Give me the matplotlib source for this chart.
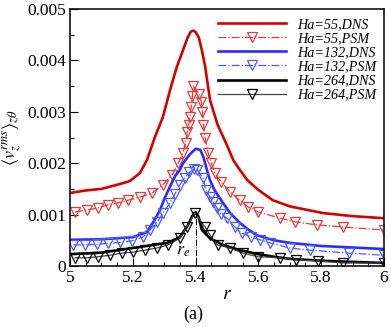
import numpy as np
import matplotlib
matplotlib.use("Agg")
import matplotlib.pyplot as plt
from matplotlib.ticker import MultipleLocator

plt.rcParams["font.family"] = "serif"
plt.rcParams["font.serif"] = ["Liberation Serif", "DejaVu Serif"]
plt.rcParams["mathtext.fontset"] = "stix"

# Ha=55
r55_dns = [5.0, 5.05, 5.1, 5.15, 5.19, 5.223, 5.245, 5.27, 5.296, 5.32, 5.34, 5.36,
           5.375, 5.385, 5.393, 5.40, 5.41, 5.42, 5.43, 5.446, 5.47, 5.5, 5.52, 5.541,
           5.565, 5.6, 5.646, 5.7, 5.806, 5.9, 6.0]
v55_dns = [0.00142, 0.00147, 0.00150, 0.00158, 0.00165, 0.00181, 0.00206, 0.0025, 0.00290,
           0.00345, 0.00387, 0.0042, 0.00445, 0.00456, 0.00458, 0.00455, 0.00445, 0.0042,
           0.0039, 0.00323, 0.00275, 0.00235, 0.00206, 0.00187, 0.00167, 0.00148, 0.00128,
           0.00116, 0.00103, 0.00097, 0.00093]
r55_psm = [5.016, 5.054, 5.089, 5.121, 5.153, 5.185, 5.223, 5.261, 5.296, 5.325, 5.345,
           5.36, 5.368, 5.373, 5.378, 5.382, 5.386, 5.39, 5.393, 5.41, 5.418, 5.422, 5.425,
           5.43, 5.44, 5.45, 5.462, 5.482, 5.51, 5.54, 5.567, 5.6, 5.67, 5.716, 5.786,
           5.869, 6.0]
v55_psm = [0.00105, 0.00109, 0.00113, 0.00119, 0.00123, 0.00128, 0.00134, 0.00142, 0.00158,
           0.00177, 0.0020, 0.0022, 0.0024, 0.0026, 0.00275, 0.0029, 0.0031, 0.0033,
           0.0035, 0.00335, 0.0032, 0.0030, 0.00275, 0.0025, 0.0022, 0.0020, 0.0018,
           0.00163, 0.00144, 0.00128, 0.00115, 0.00105, 0.00093, 0.00086, 0.0008,
           0.00076, 0.0007]

# Ha=132
r132_dns = [5.0, 5.1, 5.2, 5.245, 5.27, 5.287, 5.3, 5.318, 5.335, 5.35, 5.36, 5.38, 5.40,
            5.415, 5.425, 5.436, 5.446, 5.46, 5.487, 5.51, 5.541, 5.57, 5.595, 5.65, 5.7,
            5.8, 5.9, 6.0]
v132_dns = [0.00051, 0.00052, 0.00056, 0.00066, 0.0009, 0.00109, 0.0013, 0.00154, 0.00175,
            0.00187, 0.0020, 0.00216, 0.00228, 0.00226, 0.00212, 0.00187, 0.00167, 0.00148,
            0.00123, 0.00103, 0.00084, 0.0007, 0.0006, 0.0005, 0.00045, 0.00039, 0.00036,
            0.00033]
r132_psm = [5.01, 5.048, 5.086, 5.121, 5.159, 5.197, 5.232, 5.255, 5.277, 5.296, 5.318,
            5.334, 5.35, 5.366, 5.38, 5.395, 5.405, 5.424, 5.432, 5.445, 5.455, 5.468,
            5.48, 5.5, 5.525, 5.548, 5.575, 5.605, 5.637, 5.7, 5.764, 5.89, 6.0]
v132_psm = [0.00041, 0.00041, 0.00042, 0.00044, 0.00046, 0.00049, 0.00056, 0.0007, 0.00085,
            0.00103, 0.00122, 0.0014, 0.00158, 0.00172, 0.00182, 0.00188, 0.00187, 0.00171,
            0.00148, 0.00135, 0.00125, 0.00113, 0.00102, 0.00093, 0.00076, 0.00064,
            0.00057, 0.00051, 0.00045, 0.00035, 0.00031, 0.00025, 0.00021]

# Ha=264
r264_dns = [5.0, 5.1, 5.2, 5.31, 5.35, 5.376, 5.39, 5.40, 5.41, 5.42, 5.446, 5.487, 5.54,
            5.6, 5.65, 5.7, 5.81, 5.9, 6.0]
v264_dns = [0.00023, 0.00026, 0.00035, 0.00045, 0.00056, 0.0008, 0.00098, 0.00105, 0.00095,
            0.0007, 0.00054, 0.00041, 0.00031, 0.00023, 0.00018, 0.00014, 0.0001, 0.00008,
            0.00006]
r264_psm = [5.016, 5.054, 5.089, 5.127, 5.165, 5.2, 5.239, 5.277, 5.312, 5.35, 5.372,
            5.398, 5.43, 5.446, 5.47, 5.51, 5.55, 5.6, 5.67, 5.72, 5.79, 5.87, 6.0]
v264_psm = [0.00016, 0.00016, 0.00018, 0.00021, 0.00025, 0.00027, 0.00031, 0.00035, 0.00041,
            0.00054, 0.00076, 0.00103, 0.00076, 0.0006, 0.00041, 0.00035, 0.00025, 0.00018,
            0.00016, 0.00012, 0.0001, 0.00006, 0.00006]

r_e = 5.4
r_e_peak = 0.00105

xticks = [5, 5.2, 5.4, 5.6, 5.8, 6]
xtick_labels = ["5", "5.2", "5.4", "5.6", "5.8", "6"]
yticks = [0, 0.001, 0.002, 0.003, 0.004, 0.005]
ytick_labels = ["0", "0.001", "0.002", "0.003", "0.004", "0.005"]

fig = plt.figure(figsize=(3.91, 3.27), dpi=100)
ax = fig.add_axes([0.179, 0.1865, 0.803, 0.786])

red_dns, red_psm = "#d40000", "#e8383a"
blue_dns, blue_psm = "#2c2cff", "#4a5cff"

ax.plot(r55_dns, v55_dns, color=red_dns, lw=1.9, label="Ha=55,DNS")
ax.plot(r55_psm, v55_psm, color=red_psm, lw=0.9, ls="-.", marker="v", ms=7.3,
        mfc="none", mec=red_psm, mew=0.9, label="Ha=55,PSM")
ax.plot(r132_dns, v132_dns, color=blue_dns, lw=1.9, label="Ha=132,DNS")
ax.plot(r132_psm, v132_psm, color=blue_psm, lw=0.9, ls="-.", marker="v", ms=7.3,
        mfc="none", mec=blue_psm, mew=0.9, label="Ha=132,PSM")
ax.plot(r264_dns, v264_dns, color="black", lw=1.9, label="Ha=264,DNS")
ax.plot(r264_psm, v264_psm, color="#444444", lw=0.9, ls="-", marker="v", ms=7.3,
        mfc="none", mec="black", mew=0.9, label="Ha=264,PSM")

ax.plot([r_e, r_e], [0, r_e_peak], color="black", lw=0.7, ls="-.")
ax.text(5.36, 0.00014, r"$r_e$", fontsize=13, ha="center", va="bottom")

ax.set_xlim(5, 6)
ax.set_ylim(0, 0.005)
ax.set_xticks(xticks)
ax.set_xticklabels(xtick_labels)
ax.set_yticks(yticks)
ax.set_yticklabels(ytick_labels)
ax.xaxis.set_minor_locator(MultipleLocator(0.05))
ax.yaxis.set_minor_locator(MultipleLocator(0.0005))
ax.tick_params(which="both", direction="in", top=False, right=False, labelsize=12.5)
ax.tick_params(which="major", length=6, width=0.8, pad=3)
ax.tick_params(which="minor", length=3, width=0.7)
for s in ax.spines.values():
    s.set_linewidth(1.1)

ax.set_xlabel(r"$r$", fontsize=14, labelpad=0)
ax.set_ylabel(r"$\langle v_z^{rms}\rangle_{z\theta}$", fontsize=13, labelpad=2)

ax.legend(loc="upper left", bbox_to_anchor=(0.47, 0.965), frameon=False,
          prop={"family": "serif", "style": "italic", "size": 10.2},
          handlelength=4.8, handletextpad=0.85, labelspacing=0.08,
          borderpad=0, borderaxespad=0, numpoints=1, markerscale=1.0)

fig.text(0.495, 0.04, "(a)", fontsize=13, ha="center", va="center")

fig.savefig("out.png", dpi=100)
